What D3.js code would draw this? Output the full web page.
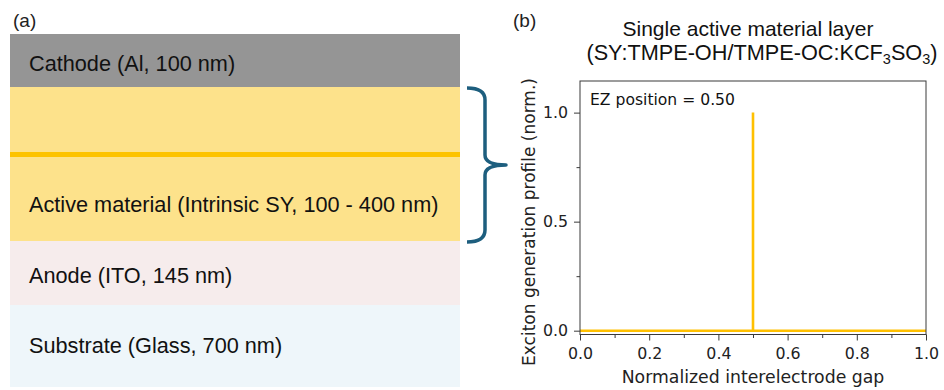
<!DOCTYPE html>
<html>
<head>
<meta charset="utf-8">
<script src="https://cdn.jsdelivr.net/npm/d3@7"></script>
<style>
  html, body { margin: 0; padding: 0; background: #ffffff; }
  svg { display: block; }
</style>
</head>
<body>
<svg id="fig" width="944" height="390"></svg>
<script>
// ---- Device stack (panel a), listed from top to bottom ----
const layerLabels = [
  "Cathode (Al, 100 nm)",
  "",
  "Active material (Intrinsic SY, 100 - 400 nm)",
  "Anode (ITO, 145 nm)",
  "Substrate (Glass, 700 nm)"
];
const layerKinds = ["cathode", "active", "active", "anode", "substrate"];

// ---- Exciton generation profile (panel b) ----
const ezPosition = 0.50;
const gapX    = [0.0, 0.5, 0.5, 0.5, 1.0];
const profile = [0.0, 0.0, 1.0, 0.0, 0.0];
const xTicks  = [0.0, 0.2, 0.4, 0.6, 0.8, 1.0];
const xMinor  = [0.1, 0.3, 0.5, 0.7, 0.9];
const yTicks  = [0.0, 0.5, 1.0];
const yMinor  = [0.25, 0.75];

const svg = d3.select("#fig");
const ARIAL = "'Liberation Sans', Arial, sans-serif";
const DEJAVU = "'DejaVu Sans', Verdana, sans-serif";

// ---------------- Panel (a): layer stack ----------------
const fills = {
  cathode: "#959595",
  active: "#fde28b",
  anode: "#f6ecec",
  substrate: "#eef6fa"
};
// layer boundaries in pixels (cathode, active top half, active bottom half, anode, substrate)
const edges = [34, 87, 154.5, 241, 305, 387];
const stackX0 = 10, stackX1 = 460;

const gA = svg.append("g");
layerKinds.forEach((k, i) => {
  gA.append("rect")
    .attr("x", stackX0).attr("y", edges[i])
    .attr("width", stackX1 - stackX0).attr("height", edges[i + 1] - edges[i])
    .attr("fill", fills[k]);
});
// emission-zone line inside the active layer
gA.append("line")
  .attr("x1", stackX0).attr("x2", stackX1)
  .attr("y1", edges[2]).attr("y2", edges[2])
  .attr("stroke", "#fdc300").attr("stroke-width", 5);

const labelY = [71, null, 211.5, 283, 353];
layerLabels.forEach((t, i) => {
  if (!t) return;
  gA.append("text")
    .attr("x", 29).attr("y", labelY[i])
    .attr("font-family", ARIAL).attr("font-size", 21.7)
    .attr("fill", "#111")
    .text(t);
});

gA.append("text").attr("x", 13).attr("y", 27)
  .attr("font-family", ARIAL).attr("font-size", 19).attr("fill", "#222")
  .text("(a)");

// curly brace spanning the active layer
const bTop = 88, bBot = 242, bMid = (bTop + bBot) / 2, bx0 = 467, bx1 = 485, bTip = 506;
gA.append("path")
  .attr("d",
    `M${bx0},${bTop} Q${bx1},${bTop} ${bx1},${bTop + 12} L${bx1},${bMid - 10}` +
    ` Q${bx1},${bMid} ${bTip},${bMid} Q${bx1},${bMid} ${bx1},${bMid + 10}` +
    ` L${bx1},${bBot - 12} Q${bx1},${bBot} ${bx0},${bBot}`)
  .attr("fill", "none").attr("stroke", "#1d5e7e").attr("stroke-width", 3.5)
  .attr("stroke-linejoin", "round");

// ---------------- Panel (b): generation profile ----------------
const plot = { left: 580, right: 926, top: 81, bottom: 334.5 };
const x = d3.scaleLinear().domain([0, 1]).range([plot.left, plot.right]);
const y = d3.scaleLinear().domain([-0.0175, 1.145]).range([plot.bottom, plot.top]);

const gB = svg.append("g");

gB.append("text").attr("x", 513).attr("y", 27)
  .attr("font-family", ARIAL).attr("font-size", 19).attr("fill", "#222")
  .text("(b)");

// two-line title with subscripts
const cx = (plot.left + plot.right) / 2;
gB.append("text").attr("x", cx - 5).attr("y", 36)
  .attr("text-anchor", "middle")
  .attr("font-family", ARIAL).attr("font-size", 21).attr("fill", "#111")
  .text("Single active material layer");
const t2 = gB.append("text").attr("x", 762).attr("y", 60)
  .attr("text-anchor", "middle")
  .attr("font-family", ARIAL).attr("font-size", 21.7).attr("fill", "#111");
t2.append("tspan").text("(SY:TMPE-OH/TMPE-OC:KCF");
t2.append("tspan").attr("font-size", 14.5).attr("dy", 4).text("3");
t2.append("tspan").attr("dy", -4).text("SO");
t2.append("tspan").attr("font-size", 14.5).attr("dy", 4).text("3");
t2.append("tspan").attr("dy", -4).text(")");

// profile line
const line = d3.line().x((d, i) => x(gapX[i])).y(d => y(d));
gB.append("path")
  .datum(profile)
  .attr("d", line)
  .attr("fill", "none")
  .attr("stroke", "#ffc000").attr("stroke-width", 2.6)
  .attr("stroke-linejoin", "miter");

// frame
gB.append("rect")
  .attr("x", plot.left).attr("y", plot.top)
  .attr("width", plot.right - plot.left).attr("height", plot.bottom - plot.top)
  .attr("fill", "none").attr("stroke", "#3a3a3a").attr("stroke-width", 1);

// axes
const xAxis = d3.axisBottom(x).tickValues(xTicks).tickFormat(d3.format(".1f"))
  .tickSize(6).tickPadding(7);
const xAxisMinor = d3.axisBottom(x).tickValues(xMinor).tickFormat("").tickSize(3.5);
const yAxis = d3.axisLeft(y).tickValues(yTicks).tickFormat(d3.format(".1f"))
  .tickSize(6).tickPadding(6);
const yAxisMinor = d3.axisLeft(y).tickValues(yMinor).tickFormat("").tickSize(3.5);

function styleAxis(g) {
  g.select(".domain").remove();
  g.selectAll(".tick line").attr("stroke", "#3a3a3a").attr("stroke-width", 1);
  g.selectAll(".tick text").attr("font-family", DEJAVU).attr("font-size", 15.8).attr("fill", "#222");
}
gB.append("g").attr("transform", `translate(0,${plot.bottom})`).call(xAxis).call(styleAxis);
gB.append("g").attr("transform", `translate(0,${plot.bottom})`).call(xAxisMinor).call(styleAxis);
gB.append("g").attr("transform", `translate(${plot.left},0)`).call(yAxis).call(styleAxis);
gB.append("g").attr("transform", `translate(${plot.left},0)`).call(yAxisMinor).call(styleAxis);

// axis titles
gB.append("text")
  .attr("x", cx).attr("y", 383)
  .attr("text-anchor", "middle")
  .attr("font-family", DEJAVU).attr("font-size", 17.3).attr("fill", "#222")
  .text("Normalized interelectrode gap");
gB.append("text")
  .attr("transform", `translate(535,${222}) rotate(-90)`)
  .attr("text-anchor", "middle")
  .attr("font-family", DEJAVU).attr("font-size", 17).attr("fill", "#222")
  .text("Exciton generation profile (norm.)");

// annotation
gB.append("text")
  .attr("x", 590).attr("y", 105)
  .attr("font-family", DEJAVU).attr("font-size", 15.6).attr("fill", "#111")
  .text("EZ position = " + ezPosition.toFixed(2));
</script>
</body>
</html>
